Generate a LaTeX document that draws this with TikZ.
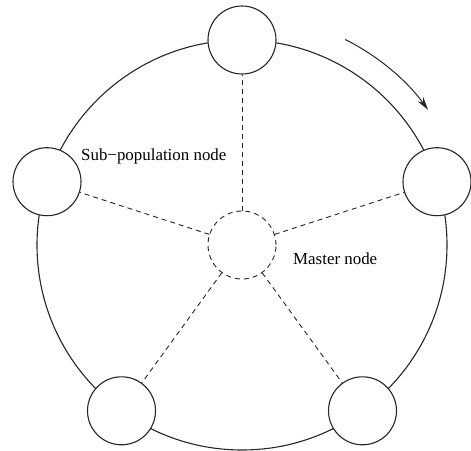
\documentclass[tikz,border=0pt]{standalone}
\usepackage{fontspec}
\setmainfont{Liberation Serif}
\usetikzlibrary{arrows.meta,calc}
\begin{document}
\begin{tikzpicture}[x=1pt,y=-1pt,
  ring/.style={line width=1.1pt,black!85},
  subnode/.style={circle,draw,line width=1.1pt,black!85,fill=white,minimum size=68pt,inner sep=0pt},
  masternode/.style={circle,draw,line width=0.9pt,black!85,dash pattern=on 5pt off 4pt,fill=white,minimum size=68pt,inner sep=0pt},
  link/.style={line width=0.9pt,black!85,dash pattern=on 5pt off 4pt},
  label/.style={font=\fontsize{16.9}{20}\selectfont,inner sep=0pt,anchor=base west}]
  \useasboundingbox (0,0) rectangle (471,450);
  \coordinate (c) at (242,245);
  % ring through the sub-population nodes
  \draw[ring] (c) circle[radius=205];
  % direction of migration around the ring
  \coordinate (arrowstart) at ($(c)+(-63.3:230)$);
  \draw[line width=1pt,black!85,-{Stealth[length=13pt,width=7pt]}]
    (arrowstart) arc[start angle=-63.3,end angle=-36,radius=230];
  % nodes
  \node[masternode] (m) at (c) {};
  \node[subnode] (n1) at ($(c)+(0,-205)$) {};
  \node[subnode] (n2) at ($(c)+(-195,-63.3)$) {};
  \node[subnode] (n3) at ($(c)+(195,-63.3)$) {};
  \node[subnode] (n4) at ($(c)+(-120.5,165.8)$) {};
  \node[subnode] (n5) at ($(c)+(120.5,165.8)$) {};
  % links from the master to every sub-population node
  \foreach \n in {n1,n2,n3,n4,n5} \draw[link] (m) -- (\n);
  % labels
  \node[label] (lsub) at (81,160) {Sub−population node};
  \node[label] (lmaster) at (293,264) {Master node};
\end{tikzpicture}
\end{document}
